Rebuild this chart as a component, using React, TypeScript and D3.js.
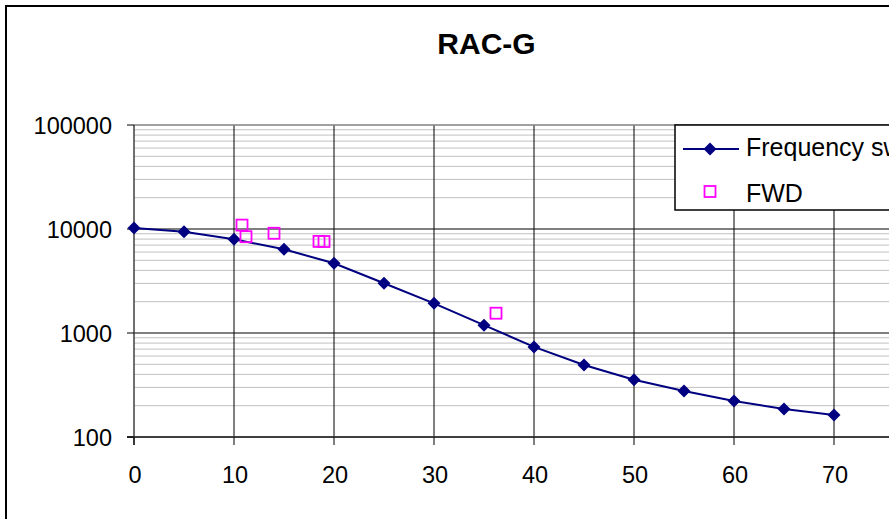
import React from "react";
import * as d3 from "d3";

const freqX = [0, 5, 10, 15, 20, 25, 30, 35, 40, 45, 50, 55, 60, 65, 70];
const freqY = [10250, 9420, 7960, 6380, 4680, 3010, 1930, 1190, 735, 493, 355, 277, 222, 186, 163];
const fwdX = [10.8, 11.2, 14.0, 18.5, 19.0, 36.2];
const fwdY = [10900, 8430, 9100, 7600, 7580, 1550];
const xTicks = [0, 10, 20, 30, 40, 50, 60, 70];
const yTicks = [100, 1000, 10000, 100000];
const title = "RAC-G";
const seriesNames = ["Frequency sweep", "FWD"];

export default function App() {
  const W = 889, H = 519;
  const left = 134, right = 934, top = 125, bottom = 437;
  const x = d3.scaleLinear().domain([0, 80]).range([left, right]);
  const y = d3.scaleLog().domain([100, 100000]).range([bottom, top]);
  const line = d3.line<number>().x((_, i) => x(freqX[i])).y((d) => y(d));
  const minor: number[] = [];
  for (let dec = 100; dec < 100000; dec *= 10) for (let k = 2; k <= 9; k++) minor.push(dec * k);
  const font = "'Liberation Sans', Arial, sans-serif";
  const diamond = (cx: number, cy: number, r = 6.5) =>
    `M${cx},${cy - r}L${cx + r},${cy}L${cx},${cy + r}L${cx - r},${cy}Z`;
  return (
    <svg width={W} height={H} style={{ position: "absolute", left: 0, top: 0, background: "#fff" }} fontFamily={font}>
      <rect x={6} y={6} width={W + 20} height={H + 20} fill="#fff" stroke="#000" strokeWidth={2} />
      <text x={486.5} y={54} textAnchor="middle" fontSize={30} fontWeight="bold">{title}</text>
      {/* minor gridlines */}
      {minor.map((v) => (
        <line key={"m" + v} x1={left} x2={right} y1={y(v)} y2={y(v)} stroke="#c0c0c0" strokeWidth={1} />
      ))}
      {/* vertical gridlines */}
      {xTicks.filter((t) => t > 0).map((t) => (
        <line key={"vx" + t} x1={x(t)} x2={x(t)} y1={top} y2={bottom} stroke="#000" strokeWidth={1} />
      ))}
      {/* major horizontal gridlines */}
      {yTicks.filter((t) => t > 100 && t < 100000).map((t) => (
        <line key={"hy" + t} x1={left} x2={right} y1={y(t)} y2={y(t)} stroke="#000" strokeWidth={1} />
      ))}
      {/* plot border */}
      <line x1={left} x2={right} y1={top} y2={top} stroke="#808080" strokeWidth={1.5} />
      {/* axes */}
      <line x1={left} x2={left} y1={top} y2={bottom + 8} stroke="#404040" strokeWidth={1.5} />
      <line x1={left - 7} x2={right} y1={bottom} y2={bottom} stroke="#404040" strokeWidth={2} />
      {yTicks.map((t) => (
        <g key={"yt" + t}>
          <line x1={left - 7} x2={left} y1={y(t)} y2={y(t)} stroke="#000" strokeWidth={1} />
          <text x={112} y={y(t) + 8.5} textAnchor="end" fontSize={23.5}>{t}</text>
        </g>
      ))}
      {xTicks.map((t) => (
        <g key={"xt" + t}>
          <line x1={x(t)} x2={x(t)} y1={bottom} y2={bottom + 8} stroke="#000" strokeWidth={1} />
          <text x={x(t) + 1} y={483} textAnchor="middle" fontSize={23.5}>{t}</text>
        </g>
      ))}
      {/* frequency series */}
      <path d={line(freqY) || ""} fill="none" stroke="#000080" strokeWidth={2} />
      {freqY.map((v, i) => (
        <path key={"d" + i} d={diamond(x(freqX[i]), y(v))} fill="#000080" />
      ))}
      {/* FWD */}
      {fwdY.map((v, i) => (
        <rect key={"s" + i} x={x(fwdX[i]) - 5.5} y={y(v) - 5.5} width={11} height={11} fill="none" stroke="#ff00ff" strokeWidth={1.8} />
      ))}
      {/* legend */}
      <rect x={675} y={125} width={260} height={85} fill="#fff" stroke="#000" strokeWidth={1.5} />
      <line x1={683} x2={739} y1={149} y2={149} stroke="#000080" strokeWidth={2} />
      <path d={diamond(710, 149)} fill="#000080" />
      <text x={746} y={156} fontSize={25}>{seriesNames[0]}</text>
      <rect x={704.5} y={186} width={11} height={11} fill="none" stroke="#ff00ff" strokeWidth={1.8} />
      <text x={746} y={202} fontSize={25}>{seriesNames[1]}</text>
    </svg>
  );
}
